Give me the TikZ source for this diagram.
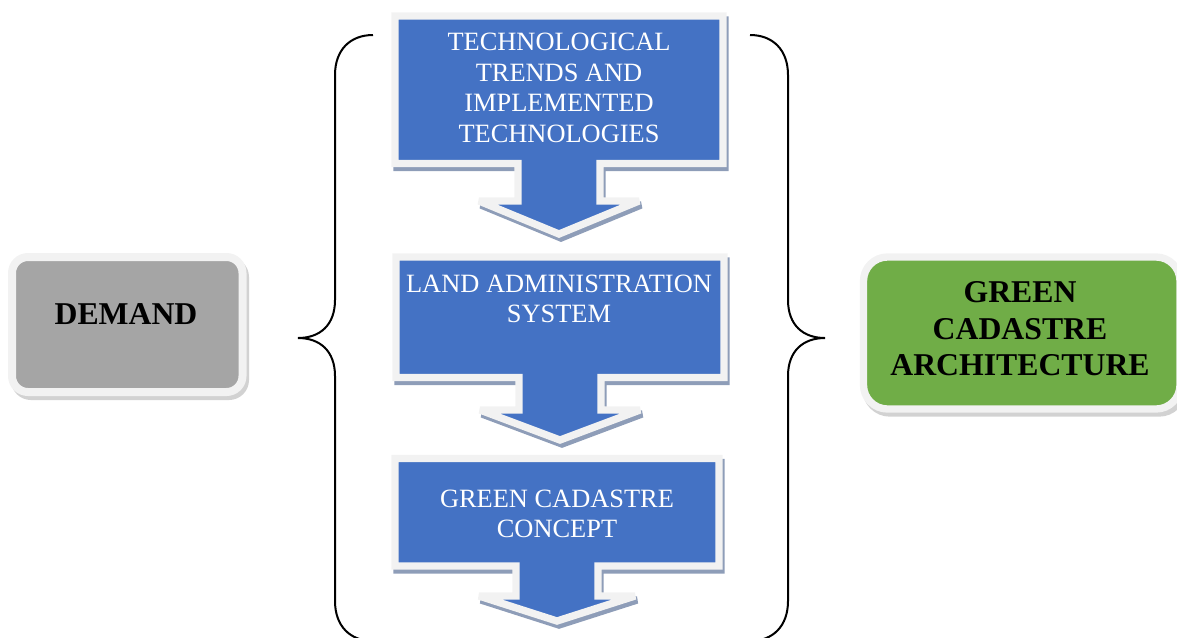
\documentclass[tikz,border=0pt]{standalone}
\usepackage{fontspec}
\setmainfont{Liberation Serif}

\definecolor{callblue}{HTML}{4472C4}
\definecolor{rimgray}{HTML}{F2F2F2}
\definecolor{shadeblue}{HTML}{8E9DB8}
\definecolor{demandgray}{HTML}{A5A5A5}
\definecolor{archgreen}{HTML}{70AD47}

% callout: centre x, half width, top, box bottom, head base, head half width, tip
\newcommand{\calloutpath}[7]{
  ({#1-#2},#3) -- ({#1+#2},#3) -- ({#1+#2},#4) -- ({#1+41},#4) -- ({#1+41},#5)
  -- ({#1+#6},#5) -- (#1,#7) -- ({#1-#6},#5) -- ({#1-41},#5) -- ({#1-41},#4)
  -- ({#1-#2},#4) -- cycle
}

\begin{document}
\begin{tikzpicture}[x=0.75pt, y=-0.75pt,
  callout/.style={fill=callblue, draw=rimgray, line width=5.5pt, miter limit=4},
  calloutshade/.style={fill=shadeblue, draw=shadeblue, line width=5.5pt, miter limit=4},
  steptext/.style={text=white, align=center, font=\fontsize{19.8}{23}\selectfont},
  sidetext/.style={align=center, font=\bfseries\fontsize{23.8}{27.4}\selectfont},
  brace/.style={line width=1.5pt}
]
  \useasboundingbox (0,0) rectangle (1177,637);
  \clip (0,0) rectangle (1177,637);

  % side boxes
  \draw[gray!35, line width=6pt, rounded corners=12pt, fill=gray!35] (15,261) rectangle (245,396);
  \draw[rimgray, line width=6pt, rounded corners=12pt, fill=demandgray] (12,257) rectangle (242.5,392);
  \node[sidetext] (demand) at (126,314) {DEMAND};

  \draw[gray!35, line width=5.5pt, rounded corners=18pt, fill=gray!35] (866,261) rectangle (1183,413);
  \draw[rimgray, line width=5.5pt, rounded corners=18pt, fill=archgreen] (863.5,257) rectangle (1180,409);
  \node[sidetext] (arch) at (1020,329) {GREEN\\CADASTRE\\ARCHITECTURE};

  % braces
  \draw[brace] (373,35) .. controls (350,35) and (335,50) .. (335,75) -- (335,300)
    .. controls (335,325) and (320,338) .. (298,338)
    .. controls (320,338) and (335,351) .. (335,376) -- (335,601)
    .. controls (335,626) and (350,641) .. (373,641);
  \draw[brace] (750,35) .. controls (773,35) and (788,50) .. (788,75) -- (788,300)
    .. controls (788,325) and (803,338) .. (825,338)
    .. controls (803,338) and (788,351) .. (788,376) -- (788,601)
    .. controls (788,626) and (773,641) .. (750,641);

  % callouts
  \draw[calloutshade] [shift={(2,4)}] \calloutpath{559}{164}{16}{163.5}{201}{80}{234};
  \draw[callout] \calloutpath{559}{164}{16}{163.5}{201}{80}{234};
  \node[steptext] (trends) at (559,88) {TECHNOLOGICAL\\TRENDS AND\\IMPLEMENTED\\TECHNOLOGIES};

  \draw[calloutshade] [shift={(2,4)}] \calloutpath{560}{164}{257}{377.5}{410}{80}{440};
  \draw[callout] \calloutpath{560}{164}{257}{377.5}{410}{80}{440};
  \node[steptext] (las) at (559,299) {LAND ADMINISTRATION\\SYSTEM};

  \draw[calloutshade] [shift={(2,4)}] \calloutpath{557}{162}{458.5}{566}{596}{78}{621};
  \draw[callout] \calloutpath{557}{162}{458.5}{566}{596}{78}{621};
  \node[steptext] (concept) at (557,514) {GREEN CADASTRE\\CONCEPT};
\end{tikzpicture}
\end{document}
